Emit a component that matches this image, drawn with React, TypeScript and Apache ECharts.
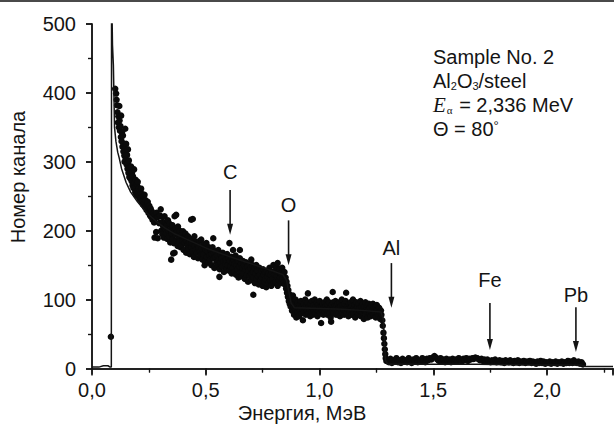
import React, { useEffect, useRef } from "react";
import * as echarts from "echarts";

const FONT = "'Liberation Sans', Arial, sans-serif";
const INK = "#141414";

// axis ticks
const xTicks = [0, 0.5, 1.0, 1.5, 2.0];
const yTicks = [0, 100, 200, 300, 400, 500];

// measured points: steep rise region (0.10 - 0.30 MeV)
const pointsSteep: number[][] = [
  [0.102, 406], [0.106, 399], [0.108, 390], [0.110, 382], [0.112, 372], [0.114, 357], [0.116, 366], [0.118, 350],
  [0.120, 381], [0.121, 360], [0.123, 345], [0.125, 352], [0.127, 336], [0.128, 367], [0.130, 330], [0.132, 342],
  [0.134, 322], [0.136, 338], [0.138, 315], [0.140, 326], [0.142, 309], [0.143, 300], [0.145, 318], [0.146, 348],
  [0.148, 304], [0.150, 326], [0.152, 296], [0.154, 310], [0.156, 290], [0.158, 318], [0.158, 299], [0.160, 284],
  [0.162, 302], [0.164, 278], [0.166, 292], [0.168, 276], [0.170, 290], [0.172, 293], [0.174, 272], [0.176, 284],
  [0.178, 266], [0.180, 279], [0.182, 262], [0.185, 289], [0.187, 270], [0.190, 256], [0.192, 274], [0.195, 252],
  [0.198, 268], [0.201, 271], [0.203, 250], [0.206, 262], [0.209, 246], [0.212, 256], [0.216, 261], [0.218, 242],
  [0.221, 253], [0.224, 238], [0.227, 250], [0.231, 252], [0.233, 234], [0.236, 244], [0.240, 230], [0.243, 240],
  [0.245, 242], [0.248, 226], [0.252, 236], [0.255, 222], [0.258, 232], [0.260, 220], [0.263, 228], [0.266, 216],
  [0.270, 225], [0.273, 212], [0.275, 222], [0.275, 190], [0.278, 218], [0.282, 198], [0.284, 226], [0.289, 189],
  [0.290, 220], [0.295, 211], [0.299, 222],
];

// measured points: slope region (0.30 - 0.875 MeV)
const pointsSlope: number[][] = [
  [0.302, 231], [0.304, 200], [0.306, 212], [0.309, 195], [0.311, 220], [0.313, 206], [0.316, 190], [0.319, 221],
  [0.321, 203], [0.324, 212], [0.326, 196], [0.329, 208], [0.331, 188], [0.334, 215], [0.336, 200], [0.339, 192],
  [0.341, 210], [0.344, 183], [0.346, 202], [0.348, 158], [0.350, 196], [0.353, 208], [0.355, 188], [0.357, 167],
  [0.358, 200], [0.360, 182], [0.363, 221], [0.363, 168], [0.366, 195], [0.368, 204], [0.370, 223], [0.371, 186],
  [0.373, 198], [0.376, 178], [0.378, 206], [0.381, 190], [0.383, 184], [0.386, 200], [0.389, 176], [0.392, 178],
  [0.394, 194], [0.397, 186], [0.400, 199], [0.403, 172], [0.405, 190], [0.408, 182], [0.411, 196], [0.414, 168],
  [0.416, 186], [0.419, 178], [0.422, 192], [0.425, 174], [0.427, 184], [0.430, 166], [0.433, 188], [0.436, 216],
  [0.436, 176], [0.439, 182], [0.442, 170], [0.443, 217], [0.445, 186], [0.448, 162], [0.450, 192], [0.452, 178],
  [0.455, 172], [0.458, 184], [0.461, 168], [0.463, 180], [0.466, 160], [0.469, 176], [0.472, 185], [0.475, 170],
  [0.478, 164], [0.480, 187], [0.483, 174], [0.486, 158], [0.489, 180], [0.491, 166], [0.494, 176], [0.495, 150],
  [0.497, 156], [0.500, 172], [0.503, 182], [0.505, 162], [0.508, 170], [0.511, 154], [0.514, 176], [0.516, 164],
  [0.519, 158], [0.522, 172], [0.525, 150], [0.527, 166], [0.530, 176], [0.533, 160], [0.533, 189], [0.536, 168],
  [0.538, 146], [0.541, 162], [0.544, 170], [0.547, 154], [0.550, 164], [0.553, 150], [0.555, 172], [0.558, 158],
  [0.560, 133], [0.561, 144], [0.564, 166], [0.566, 154], [0.569, 160], [0.572, 148], [0.575, 168], [0.578, 156],
  [0.580, 140], [0.583, 162], [0.586, 152], [0.589, 158], [0.591, 144], [0.594, 166], [0.597, 150], [0.600, 160],
  [0.603, 142], [0.604, 182], [0.606, 156], [0.609, 148], [0.612, 162], [0.614, 138], [0.617, 154], [0.620, 146],
  [0.620, 172], [0.622, 158], [0.625, 140], [0.628, 152], [0.631, 164], [0.633, 136], [0.636, 150], [0.639, 144],
  [0.642, 156], [0.644, 132], [0.647, 148], [0.650, 160], [0.650, 172], [0.653, 140], [0.655, 152], [0.658, 134],
  [0.661, 146], [0.664, 156], [0.666, 138], [0.669, 150], [0.672, 130], [0.675, 144], [0.677, 154], [0.680, 136],
  [0.683, 148], [0.686, 126], [0.689, 142], [0.691, 152], [0.694, 134], [0.697, 146], [0.700, 158], [0.700, 138],
  [0.703, 128], [0.705, 150], [0.708, 140], [0.709, 107], [0.711, 132], [0.714, 146], [0.716, 124], [0.719, 138],
  [0.722, 150], [0.725, 130], [0.727, 142], [0.730, 134], [0.733, 122], [0.736, 146], [0.738, 136], [0.741, 128],
  [0.744, 142], [0.747, 132], [0.750, 120], [0.752, 144], [0.755, 136], [0.758, 126], [0.761, 140], [0.763, 130],
  [0.766, 118], [0.769, 142], [0.772, 134], [0.775, 124], [0.777, 138], [0.780, 146], [0.783, 128], [0.786, 136],
  [0.788, 120], [0.791, 140], [0.794, 130], [0.797, 150], [0.800, 124], [0.802, 136], [0.805, 142], [0.808, 126],
  [0.811, 148], [0.813, 134], [0.816, 153], [0.816, 120], [0.819, 140], [0.822, 128], [0.825, 144], [0.827, 132],
  [0.830, 138], [0.833, 124], [0.836, 146], [0.838, 130], [0.841, 136], [0.844, 126], [0.846, 140], [0.848, 122],
  [0.851, 132], [0.853, 116], [0.855, 126], [0.857, 110], [0.859, 120], [0.861, 104], [0.863, 114], [0.865, 98],
  [0.867, 108], [0.869, 94], [0.871, 102], [0.873, 90],
];

// measured points: plateau (0.875 - 1.27 MeV)
const pointsPlateau: number[][] = [
  [0.876, 96], [0.879, 84], [0.881, 102], [0.883, 106], [0.885, 90], [0.888, 78], [0.890, 94], [0.893, 86],
  [0.895, 100], [0.898, 74], [0.900, 90], [0.903, 82], [0.905, 96], [0.908, 88], [0.910, 76], [0.913, 92],
  [0.915, 84], [0.918, 98], [0.920, 80], [0.923, 90], [0.925, 86], [0.927, 70], [0.930, 94], [0.932, 82],
  [0.935, 88], [0.937, 100], [0.940, 78], [0.942, 92], [0.945, 84], [0.947, 96], [0.949, 109], [0.951, 80],
  [0.954, 90], [0.956, 86], [0.959, 76], [0.961, 94], [0.964, 82], [0.966, 98], [0.969, 88], [0.971, 78],
  [0.974, 92], [0.976, 84], [0.979, 100], [0.981, 80], [0.984, 90], [0.986, 86], [0.989, 96], [0.991, 76],
  [0.994, 92], [0.996, 84], [0.999, 88], [1.001, 98], [1.004, 80], [1.007, 66], [1.009, 90], [1.012, 84],
  [1.014, 94], [1.017, 78], [1.019, 88], [1.022, 96], [1.024, 82], [1.027, 90], [1.029, 86], [1.032, 100],
  [1.034, 78], [1.037, 92], [1.039, 84], [1.042, 96], [1.044, 80], [1.047, 88], [1.049, 74], [1.051, 68],
  [1.054, 92], [1.056, 84], [1.058, 111], [1.060, 96], [1.063, 80], [1.065, 90], [1.068, 86], [1.070, 98],
  [1.073, 78], [1.075, 92], [1.078, 84], [1.080, 94], [1.083, 80], [1.085, 88], [1.088, 96], [1.090, 76],
  [1.093, 90], [1.095, 84], [1.098, 100], [1.100, 80], [1.103, 92], [1.105, 86], [1.108, 78], [1.110, 94],
  [1.113, 84], [1.115, 98], [1.117, 110], [1.120, 80], [1.122, 90], [1.125, 86], [1.127, 76], [1.130, 94],
  [1.132, 82], [1.135, 88], [1.137, 96], [1.140, 78], [1.142, 90], [1.145, 84], [1.147, 100], [1.150, 80],
  [1.152, 88], [1.155, 92], [1.157, 74], [1.160, 86], [1.162, 96], [1.165, 82], [1.167, 90], [1.170, 78],
  [1.172, 94], [1.175, 84], [1.177, 88], [1.180, 98], [1.182, 76], [1.185, 90], [1.187, 82], [1.190, 94],
  [1.192, 86], [1.195, 72], [1.197, 90], [1.200, 84], [1.202, 96], [1.205, 80], [1.207, 88], [1.210, 92],
  [1.212, 74], [1.215, 86], [1.217, 94], [1.220, 80], [1.222, 88], [1.225, 76], [1.227, 92], [1.230, 82],
  [1.232, 86], [1.235, 94], [1.237, 78], [1.240, 88], [1.242, 82], [1.245, 90], [1.247, 74], [1.250, 86],
  [1.252, 92], [1.255, 80], [1.257, 86], [1.260, 76], [1.262, 88], [1.265, 82], [1.267, 72], [1.270, 84],
];

// measured points: Al edge drop
const pointsEdge: number[][] = [
  [1.272, 78], [1.276, 70], [1.278, 62], [1.281, 52], [1.283, 44], [1.285, 36], [1.287, 28], [1.289, 21],
  [1.291, 15], [1.294, 11],
];

// measured points: substrate tail (1.30 - 2.16 MeV)
const pointsTail: number[][] = [
  [1.298, 12], [1.305, 9], [1.312, 14], [1.318, 8], [1.325, 12], [1.332, 10], [1.338, 15], [1.345, 9],
  [1.352, 12], [1.358, 8], [1.365, 14], [1.372, 10], [1.378, 12], [1.385, 9], [1.392, 15], [1.398, 11],
  [1.405, 8], [1.412, 13], [1.418, 10], [1.425, 15], [1.432, 9], [1.438, 12], [1.445, 10], [1.452, 15],
  [1.458, 11], [1.465, 9], [1.472, 14], [1.478, 12], [1.485, 15], [1.492, 13], [1.498, 16], [1.505, 18],
  [1.512, 16], [1.518, 13], [1.525, 11], [1.532, 15], [1.538, 10], [1.545, 13], [1.552, 9], [1.558, 14],
  [1.565, 11], [1.572, 13], [1.578, 9], [1.585, 14], [1.592, 11], [1.598, 13], [1.605, 10], [1.612, 15],
  [1.618, 12], [1.625, 10], [1.632, 14], [1.638, 12], [1.645, 15], [1.652, 11], [1.658, 14], [1.665, 13],
  [1.672, 15], [1.678, 14], [1.685, 16], [1.692, 15], [1.698, 14], [1.705, 12], [1.712, 14], [1.718, 11],
  [1.725, 13], [1.732, 10], [1.738, 13], [1.745, 11], [1.752, 9], [1.758, 12], [1.765, 10], [1.772, 13],
  [1.778, 9], [1.785, 11], [1.792, 12], [1.798, 9], [1.805, 11], [1.812, 8], [1.818, 12], [1.825, 10],
  [1.832, 9], [1.838, 12], [1.845, 10], [1.852, 8], [1.858, 11], [1.865, 9], [1.872, 12], [1.878, 8],
  [1.885, 10], [1.892, 9], [1.898, 11], [1.905, 8], [1.912, 10], [1.918, 9], [1.925, 11], [1.932, 8],
  [1.938, 10], [1.945, 9], [1.952, 7], [1.958, 10], [1.965, 8], [1.972, 11], [1.978, 8], [1.985, 10],
  [1.992, 7], [1.998, 9], [2.005, 8], [2.012, 10], [2.018, 7], [2.025, 9], [2.032, 8], [2.038, 10],
  [2.045, 7], [2.052, 9], [2.058, 8], [2.065, 10], [2.072, 7], [2.078, 9], [2.085, 8], [2.092, 11],
  [2.098, 8], [2.105, 10], [2.112, 8], [2.118, 12], [2.125, 9], [2.132, 8], [2.138, 10], [2.145, 7],
  [2.152, 9], [2.158, 6],
];

// isolated low-energy point
const pointsStray: number[][] = [[0.083, 46]];

// simulated spectrum (solid line)
const simulated: number[][] = [
  [0.0, 2], [0.03, 2], [0.05, 4], [0.07, 4], [0.08, 2], [0.085, 2], [0.086, 560], [0.09, 470], [0.094, 440],
  [0.099, 350], [0.105, 330], [0.113, 314], [0.12, 305], [0.13, 290], [0.15, 270], [0.17, 256], [0.2, 242],
  [0.24, 226], [0.28, 214], [0.32, 204], [0.36, 196], [0.4, 190], [0.5, 175], [0.6, 163], [0.7, 152],
  [0.8, 141], [0.84, 136], [0.855, 128], [0.865, 112], [0.875, 95], [0.89, 88], [1.0, 87], [1.1, 86],
  [1.2, 84], [1.27, 82], [1.28, 72], [1.29, 12], [1.3, 6], [1.5, 6], [1.7, 6], [2.0, 5], [2.15, 5],
  [2.17, 3], [2.29, 3],
];

// element edge markers
const markerNames = ["C", "O", "Al", "Fe", "Pb"];
const markerX = [0.607, 0.864, 1.316, 1.749, 2.127];
const markerTop = [259, 215, 153, 95, 89];
const markerTip = [194, 150, 88, 27, 24];
const markerLabelY = [285, 237, 175, 128, 107];

const X_MIN = 0;
const X_MAX = 2.29;

export default function App() {
  const ref = useRef<HTMLDivElement>(null);

  useEffect(() => {
    if (!ref.current) return;
    const chart = echarts.init(ref.current, null, { renderer: "svg" });

    const axisLine = { show: true, lineStyle: { color: INK, width: 1.5 } };
    const fmtX = (v: number) => {
      const hit = xTicks.find((t) => Math.abs(t - v) < 1e-6);
      return hit === undefined ? "" : hit.toFixed(1).replace(".", ",");
    };
    const fmtY = (v: number) => {
      const hit = yTicks.find((t) => Math.abs(t - v) < 1e-6);
      return hit === undefined ? "" : String(hit);
    };

    const scatterStyle = { color: "#0a0a0a", opacity: 1 };
    const scatterSeries = [pointsSteep, pointsSlope, pointsPlateau, pointsEdge, pointsTail, pointsStray].map(
      (pts) => ({
        type: "scatter",
        data: pts,
        symbol: "circle",
        symbolSize: 6.5,
        itemStyle: scatterStyle,
        silent: true,
      })
    );

    const option: any = {
      animation: false,
      backgroundColor: "#ffffff",
      grid: { left: 92, right: 1, top: 24, bottom: 59.5, containLabel: false, outerBoundsMode: "none" },
      xAxis: [
        {
          type: "value",
          position: "bottom",
          min: X_MIN,
          max: X_MAX,
          interval: 0.5,
          axisLine,
          axisTick: { show: true, inside: false, length: 6, lineStyle: { color: INK, width: 1.5 } },
          minorTick: { show: true, splitNumber: 2, length: 4, lineStyle: { color: INK, width: 1.2 } },
          splitLine: { show: false },
          axisLabel: { formatter: fmtX, color: INK, fontSize: 20, fontFamily: FONT, margin: 11, showMaxLabel: false },
        },
        {
          type: "value",
          position: "top",
          min: X_MIN,
          max: X_MAX,
          interval: 0.5,
          axisLine,
          axisTick: { show: true, inside: true, length: 7, lineStyle: { color: INK, width: 1.5 } },
          minorTick: { show: true, splitNumber: 2, length: 4, lineStyle: { color: INK, width: 1.2 } },
          splitLine: { show: false },
          axisLabel: { show: false },
        },
      ],
      yAxis: [
        {
          type: "value",
          position: "left",
          min: 0,
          max: 500,
          interval: 100,
          axisLine,
          axisTick: { show: true, inside: false, length: 6, lineStyle: { color: INK, width: 1.5 } },
          minorTick: { show: true, splitNumber: 2, length: 4, lineStyle: { color: INK, width: 1.2 } },
          splitLine: { show: false },
          axisLabel: { formatter: fmtY, color: INK, fontSize: 20, fontFamily: FONT, margin: 16 },
        },
        {
          type: "value",
          position: "right",
          min: 0,
          max: 500,
          interval: 100,
          axisLine,
          axisTick: { show: true, inside: true, length: 6, lineStyle: { color: INK, width: 1.5 } },
          minorTick: { show: true, splitNumber: 2, length: 4, lineStyle: { color: INK, width: 1.2 } },
          splitLine: { show: false },
          axisLabel: { show: false },
        },
      ],
      series: [
        {
          type: "line",
          data: simulated,
          showSymbol: false,
          symbol: "none",
          lineStyle: { color: INK, width: 1.5 },
          clip: true,
          silent: true,
          z: 3,
        },
        ...scatterSeries,
        {
          type: "custom",
          data: markerX.map((x, i) => [x, markerTop[i], markerTip[i], markerLabelY[i]]),
          encode: { x: 0, y: [1, 2, 3] },
          clip: false,
          silent: true,
          z: 5,
          renderItem: (params: any, api: any) => {
            const x = api.value(0);
            const p1 = api.coord([x, api.value(1)]);
            const p2 = api.coord([x, api.value(2)]);
            const pl = api.coord([x, api.value(3)]);
            return {
              type: "group",
              children: [
                {
                  type: "line",
                  shape: { x1: p1[0], y1: p1[1], x2: p2[0], y2: p2[1] - 8 },
                  style: { stroke: INK, lineWidth: 1.6 },
                },
                {
                  type: "polygon",
                  shape: {
                    points: [
                      [p2[0] - 3, p2[1] - 11],
                      [p2[0] + 3, p2[1] - 11],
                      [p2[0], p2[1]],
                    ],
                  },
                  style: { fill: INK },
                },
                {
                  type: "text",
                  x: pl[0],
                  y: pl[1],
                  style: {
                    text: markerNames[params.dataIndex],
                    fontSize: 20,
                    fontFamily: FONT,
                    fill: INK,
                    align: "center",
                    verticalAlign: "middle",
                  },
                },
              ],
            };
          },
        },
      ],
      graphic: [
        { type: "rect", left: 0, top: 0, shape: { width: 614, height: 2 }, style: { fill: "#4a4a4a" } },
        {
          type: "text",
          x: 17.5,
          y: 177,
          rotation: Math.PI / 2,
          style: {
            text: "Номер канала",
            fontSize: 20,
            fontFamily: FONT,
            fill: INK,
            align: "center",
            verticalAlign: "middle",
          },
        },
        {
          type: "text",
          x: 302,
          y: 413,
          style: {
            text: "Энергия, МэВ",
            fontSize: 20,
            fontFamily: FONT,
            fill: INK,
            align: "center",
            verticalAlign: "middle",
          },
        },
        {
          type: "text",
          x: 433,
          y: 57,
          style: { text: "Sample No. 2", fontSize: 20, fontFamily: FONT, fill: INK, verticalAlign: "middle" },
        },
        {
          type: "text",
          x: 433,
          y: 81,
          style: {
            text: "Al{s|2}O{s|3}/steel",
            fontSize: 20,
            fontFamily: FONT,
            fill: INK,
            verticalAlign: "middle",
            rich: {
              s: { fontSize: 11, fontFamily: FONT, fill: INK, padding: [9, 0, 0, 0] },
            },
          },
        },
        {
          type: "text",
          x: 433,
          y: 105,
          style: {
            text: "{e|E}{s|α} = 2,336 MeV",
            fontSize: 20,
            fontFamily: FONT,
            fill: INK,
            verticalAlign: "middle",
            rich: {
              e: { fontSize: 21, fontFamily: "'Liberation Serif', 'Times New Roman', serif", fontStyle: "italic", fill: INK },
              s: { fontSize: 11, fontFamily: "'Liberation Serif', serif", fill: INK, padding: [10, 1, 0, 1] },
            },
          },
        },
        {
          type: "text",
          x: 433,
          y: 129,
          style: {
            text: "Θ = 80{d|°}",
            fontSize: 20,
            fontFamily: FONT,
            fill: INK,
            verticalAlign: "middle",
            rich: {
              d: { fontSize: 13, fontFamily: FONT, fill: INK, padding: [0, 0, 8, 0] },
            },
          },
        },
      ],
    };

    chart.setOption(option);
    return () => chart.dispose();
  }, []);

  return (
    <div
      ref={ref}
      style={{ position: "absolute", left: 0, top: 0, width: 614, height: 428, background: "#fff" }}
    />
  );
}
